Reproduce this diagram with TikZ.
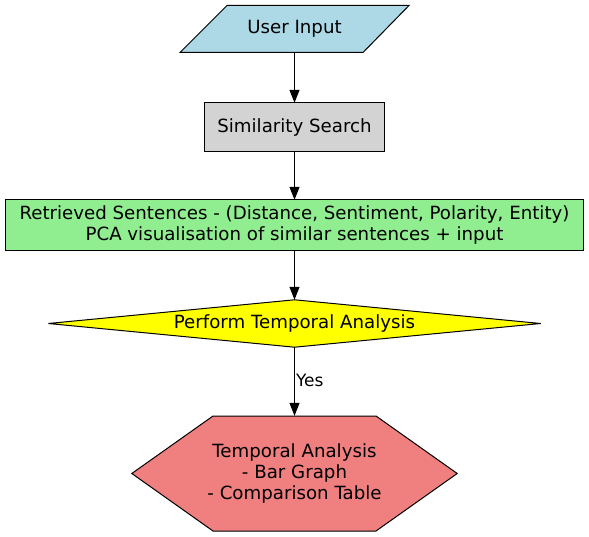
\documentclass[tikz,border=0pt]{standalone}
\usepackage{fontspec}
\setmainfont{DejaVu Sans}
\usetikzlibrary{arrows.meta,backgrounds}
\definecolor{lblue}{HTML}{ADD8E6}
\definecolor{lgray}{HTML}{D3D3D3}
\definecolor{lgreen}{HTML}{90EE90}
\definecolor{lcoral}{HTML}{F08080}
\definecolor{yel}{HTML}{FFFF00}
\tikzset{
  box/.style={draw=none, rectangle, inner sep=0pt, align=center, font=\fontsize{18.2}{21}\selectfont},
  shp/.style={draw=black, line width=1pt, line join=miter},
  conn/.style={draw=black, line width=1pt, -{Triangle[length=13pt,width=10pt]}},
  lbl/.style={font=\fontsize{17}{20}\selectfont, inner sep=1pt, anchor=west}
}
\begin{document}
\begin{tikzpicture}[x=1pt,y=-1pt]
\useasboundingbox (0,0) rectangle (589,537);
\node[box, minimum width=229pt, minimum height=48pt] (ui) at (294.5,29) {User Input};
\node[box, minimum width=179pt, minimum height=48pt] (ss) at (294.5,127) {Similarity Search};
\node[box, minimum width=578pt, minimum height=50pt] (rs) at (294.5,225) {Retrieved Sentences - (Distance, Sentiment, Polarity, Entity)\\PCA visualisation of similar sentences + input};
\node[box, minimum width=492pt, minimum height=47pt] (pt) at (294.5,323.5) {Perform Temporal Analysis};
\node[box, minimum width=325pt, minimum height=115pt] (ta) at (294.5,473.5) {Temporal Analysis\\- Bar Graph\\- Comparison Table};
\begin{scope}[on background layer]
\path[shp, fill=lblue] (227,5.5) -- (409,5.5) -- (363,52.5) -- (180,52.5) -- cycle;
\path[shp, fill=lgray] (ss.north west) rectangle (ss.south east);
\path[shp, fill=lgreen] (rs.north west) rectangle (rs.south east);
\path[shp, fill=yel] (pt.west) -- (pt.north) -- (pt.east) -- (pt.south) -- cycle;
\path[shp, fill=lcoral] (213,416) -- (376,416) -- (ta.east) -- (376,531) -- (213,531) -- (ta.west) -- cycle;
\end{scope}
\draw[conn] (ui) -- (ss);
\draw[conn] (ss) -- (rs);
\draw[conn] (rs) -- (pt);
\draw[conn] (pt) -- node[lbl, pos=0.48] {Yes} (ta);
\end{tikzpicture}
\end{document}
